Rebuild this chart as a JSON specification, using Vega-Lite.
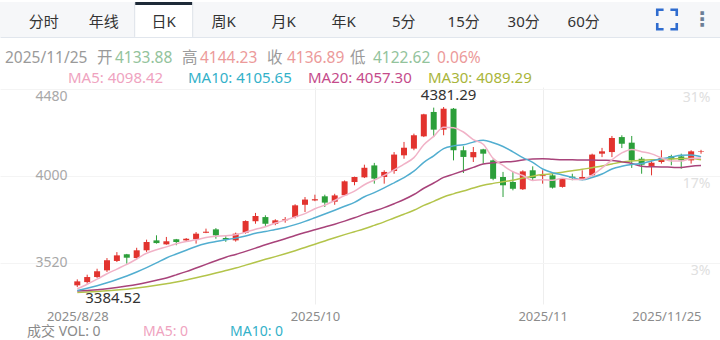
{
  "$schema": "https://vega.github.io/schema/vega-lite/v6.json",
  "padding": {"top": -3, "left": 0, "right": 0, "bottom": 0},
  "background": "#ffffff",
  "config": {"view": {"stroke": null}, "font": "Noto Sans, Noto Sans CJK SC", "text": {"font": "Noto Sans, Noto Sans CJK SC"}},
  "datasets": {
    "tabs": [{"tab": "分时"}, {"tab": "年线"}, {"tab": "日K"}, {"tab": "周K"}, {"tab": "月K"}, {"tab": "年K"}, {"tab": "5分"}, {"tab": "15分"}, {"tab": "30分"}, {"tab": "60分"}],
    "icons": [{"seq": 0, "name": "fullscreen"}, {"seq": 1, "name": "more", "t": "⋮"}],
    "quote": [
      {"row": 0, "seq": 0, "t": "2025/11/25", "k": "lab"},
      {"row": 0, "seq": 1, "t": "开", "k": "lab"},
      {"row": 0, "seq": 2, "t": "4133.88", "k": "-"},
      {"row": 0, "seq": 3, "t": "高", "k": "lab"},
      {"row": 0, "seq": 4, "t": "4144.23", "k": "+"},
      {"row": 0, "seq": 5, "t": "收", "k": "lab"},
      {"row": 0, "seq": 6, "t": "4136.89", "k": "+"},
      {"row": 0, "seq": 7, "t": "低", "k": "lab"},
      {"row": 0, "seq": 8, "t": "4122.62", "k": "-"},
      {"row": 0, "seq": 9, "t": "0.06%", "k": "+"},
      {"row": 1, "seq": 10, "t": "MA5: 4098.42", "k": "ma5"},
      {"row": 1, "seq": 11, "t": "MA10: 4105.65", "k": "ma10"},
      {"row": 1, "seq": 12, "t": "MA20: 4057.30", "k": "ma20"},
      {"row": 1, "seq": 13, "t": "MA30: 4089.29", "k": "ma30"}
    ],
    "vol": [
      {"seq": 0, "t": "成交  VOL: 0", "k": "lab"},
      {"seq": 1, "t": "MA5: 0", "k": "ma5"},
      {"seq": 2, "t": "MA10: 0", "k": "ma10"}
    ],
    "candles": [
      {"d":"2025-08-28","i":0,"o":3394,"h":3427,"l":3384.52,"c":3416,"ma5":3375,"ma10":3366,"ma20":3363,"ma30":3355},
      {"d":"2025-08-29","i":1,"o":3412,"h":3453,"l":3403,"c":3440,"ma5":3400,"ma10":3378,"ma20":3366,"ma30":3357},
      {"d":"2025-09-01","i":2,"o":3440,"h":3486,"l":3435,"c":3472,"ma5":3428,"ma10":3392,"ma20":3370,"ma30":3360},
      {"d":"2025-09-02","i":3,"o":3477,"h":3545,"l":3468,"c":3533,"ma5":3458,"ma10":3408,"ma20":3375,"ma30":3364},
      {"d":"2025-09-03","i":4,"o":3529,"h":3578,"l":3523,"c":3560,"ma5":3484,"ma10":3426,"ma20":3382,"ma30":3368},
      {"d":"2025-09-04","i":5,"o":3566,"h":3568,"l":3514,"c":3547,"ma5":3510,"ma10":3446,"ma20":3390,"ma30":3373},
      {"d":"2025-09-05","i":6,"o":3545,"h":3602,"l":3538,"c":3588,"ma5":3540,"ma10":3468,"ma20":3399,"ma30":3379},
      {"d":"2025-09-08","i":7,"o":3588,"h":3647,"l":3579,"c":3634,"ma5":3572,"ma10":3492,"ma20":3410,"ma30":3386},
      {"d":"2025-09-09","i":8,"o":3643,"h":3671,"l":3625,"c":3628,"ma5":3591,"ma10":3518,"ma20":3422,"ma30":3394},
      {"d":"2025-09-10","i":9,"o":3621,"h":3662,"l":3619,"c":3638,"ma5":3607,"ma10":3545.6,"ma20":3435,"ma30":3403},
      {"d":"2025-09-11","i":10,"o":3649,"h":3651,"l":3616,"c":3634,"ma5":3624,"ma10":3567.4,"ma20":3452,"ma30":3412},
      {"d":"2025-09-12","i":11,"o":3643,"h":3656,"l":3640,"c":3652,"ma5":3637,"ma10":3588.6,"ma20":3470,"ma30":3424},
      {"d":"2025-09-15","i":12,"o":3649,"h":3689,"l":3625,"c":3680,"ma5":3646,"ma10":3609.4,"ma20":3490,"ma30":3436},
      {"d":"2025-09-16","i":13,"o":3685,"h":3708,"l":3683,"c":3691,"ma5":3659,"ma10":3625.2,"ma20":3510,"ma30":3449},
      {"d":"2025-09-17","i":14,"o":3704,"h":3711,"l":3652,"c":3671,"ma5":3666,"ma10":3636.3,"ma20":3530,"ma30":3462},
      {"d":"2025-09-18","i":15,"o":3656,"h":3666,"l":3635,"c":3647,"ma5":3668,"ma10":3646.3,"ma20":3550,"ma30":3476},
      {"d":"2025-09-19","i":16,"o":3643,"h":3686,"l":3636,"c":3680,"ma5":3674,"ma10":3655.5,"ma20":3565,"ma30":3490},
      {"d":"2025-09-22","i":17,"o":3685,"h":3754,"l":3680,"c":3750,"ma5":3688,"ma10":3667.1,"ma20":3582,"ma30":3506},
      {"d":"2025-09-23","i":18,"o":3749,"h":3795,"l":3735,"c":3778,"ma5":3705,"ma10":3682.1,"ma20":3600,"ma30":3522},
      {"d":"2025-09-24","i":19,"o":3772,"h":3782,"l":3723,"c":3735,"ma5":3718,"ma10":3691.8,"ma20":3618.7,"ma30":3538},
      {"d":"2025-09-25","i":20,"o":3735,"h":3760,"l":3727,"c":3754,"ma5":3739,"ma10":3703.8,"ma20":3635.6,"ma30":3553},
      {"d":"2025-09-26","i":21,"o":3754,"h":3772,"l":3741,"c":3760,"ma5":3755,"ma10":3714.6,"ma20":3651.6,"ma30":3569},
      {"d":"2025-09-29","i":22,"o":3772,"h":3843,"l":3765,"c":3837,"ma5":3773,"ma10":3730.3,"ma20":3669.9,"ma30":3586},
      {"d":"2025-09-30","i":23,"o":3840,"h":3883,"l":3800,"c":3869,"ma5":3791,"ma10":3748.1,"ma20":3686.7,"ma30":3604},
      {"d":"2025-10-01","i":24,"o":3864,"h":3896,"l":3860,"c":3871,"ma5":3818,"ma10":3768.1,"ma20":3702.2,"ma30":3622},
      {"d":"2025-10-02","i":25,"o":3887,"h":3896,"l":3828,"c":3852,"ma5":3838,"ma10":3788.6,"ma20":3717.5,"ma30":3640},
      {"d":"2025-10-03","i":26,"o":3857,"h":3901,"l":3840,"c":3892,"ma5":3864,"ma10":3809.8,"ma20":3732.7,"ma30":3658},
      {"d":"2025-10-06","i":27,"o":3893,"h":3975,"l":3890,"c":3970,"ma5":3891,"ma10":3831.8,"ma20":3749.5,"ma30":3675},
      {"d":"2025-10-07","i":28,"o":3966,"h":3996,"l":3948,"c":3994,"ma5":3916,"ma10":3853.4,"ma20":3767.8,"ma30":3691},
      {"d":"2025-10-08","i":29,"o":3992,"h":4062,"l":3988,"c":4045,"ma5":3951,"ma10":3884.4,"ma20":3788.1,"ma30":3707.3},
      {"d":"2025-10-09","i":30,"o":4058,"h":4072,"l":3957,"c":3985,"ma5":3977,"ma10":3907.5,"ma20":3805.7,"ma30":3726.2},
      {"d":"2025-10-10","i":31,"o":3994,"h":4031,"l":3957,"c":4022,"ma5":4003,"ma10":3933.7,"ma20":3824.2,"ma30":3745.6},
      {"d":"2025-10-13","i":32,"o":4027,"h":4132,"l":4012,"c":4118,"ma5":4033,"ma10":3961.8,"ma20":3846.1,"ma30":3767.2},
      {"d":"2025-10-14","i":33,"o":4114,"h":4188,"l":4095,"c":4156,"ma5":4065,"ma10":3990.5,"ma20":3869.3,"ma30":3787.9},
      {"d":"2025-10-15","i":34,"o":4151,"h":4234,"l":4142,"c":4225,"ma5":4101,"ma10":4025.9,"ma20":3897,"ma30":3810.1},
      {"d":"2025-10-16","i":35,"o":4219,"h":4344,"l":4215,"c":4341,"ma5":4172,"ma10":4074.8,"ma20":3931.7,"ma30":3836.6},
      {"d":"2025-10-17","i":36,"o":4354,"h":4378,"l":4215,"c":4256,"ma5":4219,"ma10":4111.2,"ma20":3960.5,"ma30":3858.8},
      {"d":"2025-10-20","i":37,"o":4256,"h":4381.29,"l":4225,"c":4372,"ma5":4270,"ma10":4151.4,"ma20":3991.6,"ma30":3883.4},
      {"d":"2025-10-21","i":38,"o":4372,"h":4376,"l":4086,"c":4142,"ma5":4267,"ma10":4166.2,"ma20":4009.8,"ma30":3900.6},
      {"d":"2025-10-22","i":39,"o":4142,"h":4164,"l":4016,"c":4105,"ma5":4243,"ma10":4172.2,"ma20":4028.3,"ma30":3916.1},
      {"d":"2025-10-23","i":40,"o":4103,"h":4160,"l":4077,"c":4132,"ma5":4201,"ma10":4186.9,"ma20":4047.2,"ma30":3932.7},
      {"d":"2025-10-24","i":41,"o":4147,"h":4150,"l":4067,"c":4123,"ma5":4175,"ma10":4197,"ma20":4065.4,"ma30":3948.4},
      {"d":"2025-10-27","i":42,"o":4086,"h":4092,"l":3976,"c":3984,"ma5":4097,"ma10":4183.6,"ma20":4072.7,"ma30":3958.6},
      {"d":"2025-10-28","i":43,"o":3994,"h":4022,"l":3883,"c":3948,"ma5":4058,"ma10":4162.8,"ma20":4076.7,"ma30":3967.1},
      {"d":"2025-10-29","i":44,"o":3966,"h":4022,"l":3920,"c":3929,"ma5":4023,"ma10":4133.2,"ma20":4079.6,"ma30":3975.7},
      {"d":"2025-10-30","i":45,"o":3926,"h":4031,"l":3922,"c":4025,"ma5":4002,"ma10":4101.6,"ma20":4088.2,"ma30":3988.3},
      {"d":"2025-10-31","i":46,"o":4031,"h":4053,"l":3976,"c":3988,"ma5":3975,"ma10":4074.8,"ma20":4093,"ma30":3998.6},
      {"d":"2025-11-03","i":47,"o":3999,"h":4031,"l":3957,"c":4004,"ma5":3979,"ma10":4038,"ma20":4094.7,"ma30":4007.1},
      {"d":"2025-11-04","i":48,"o":4003,"h":4012,"l":3930,"c":3935,"ma5":3976,"ma10":4017.3,"ma20":4091.8,"ma30":4012.3},
      {"d":"2025-11-05","i":49,"o":3939,"h":3988,"l":3935,"c":3985,"ma5":3987,"ma10":4005.3,"ma20":4088.8,"ma30":4020.6},
      {"d":"2025-11-06","i":50,"o":3996,"h":4012,"l":3976,"c":3988,"ma5":3980,"ma10":3990.9,"ma20":4088.9,"ma30":4028.4},
      {"d":"2025-11-07","i":51,"o":3981,"h":4031,"l":3976,"c":3994,"ma5":3981,"ma10":3978,"ma20":4087.5,"ma30":4036.2},
      {"d":"2025-11-10","i":52,"o":4003,"h":4123,"l":3998,"c":4118,"ma5":4004,"ma10":3991.4,"ma20":4087.5,"ma30":4045.6},
      {"d":"2025-11-11","i":53,"o":4123,"h":4155,"l":4104,"c":4136,"ma5":4044,"ma10":4010.2,"ma20":4086.5,"ma30":4054.5},
      {"d":"2025-11-12","i":54,"o":4132,"h":4221,"l":4104,"c":4210,"ma5":4089,"ma10":4038.3,"ma20":4085.8,"ma30":4065.8},
      {"d":"2025-11-13","i":55,"o":4215,"h":4225,"l":4154,"c":4178,"ma5":4127,"ma10":4053.6,"ma20":4077.6,"ma30":4076.7},
      {"d":"2025-11-14","i":56,"o":4184,"h":4221,"l":4044,"c":4086,"ma5":4146,"ma10":4063.4,"ma20":4069.1,"ma30":4083.1},
      {"d":"2025-11-17","i":57,"o":4095,"h":4105,"l":4012,"c":4062,"ma5":4134,"ma10":4069.2,"ma20":4053.6,"ma30":4086.2},
      {"d":"2025-11-18","i":58,"o":4055,"h":4086,"l":4003,"c":4073,"ma5":4122,"ma10":4083,"ma20":4050.2,"ma30":4088.8},
      {"d":"2025-11-19","i":59,"o":4077,"h":4142,"l":4068,"c":4099,"ma5":4100,"ma10":4094.4,"ma20":4049.9,"ma30":4090.6},
      {"d":"2025-11-20","i":60,"o":4110,"h":4117,"l":4059,"c":4092,"ma5":4082,"ma10":4104.8,"ma20":4047.8,"ma30":4094.2},
      {"d":"2025-11-21","i":61,"o":4108,"h":4123,"l":4040,"c":4086,"ma5":4082,"ma10":4114,"ma20":4046,"ma30":4096.3},
      {"d":"2025-11-24","i":62,"o":4086,"h":4142,"l":4068,"c":4136,"ma5":4097,"ma10":4115.8,"ma20":4053.6,"ma30":4096.9},
      {"d":"2025-11-25","i":63,"o":4133.88,"h":4144.23,"l":4122.62,"c":4136.89,"ma5":4098.42,"ma10":4105.65,"ma20":4057.3,"ma30":4089.29}
    ]
  },
  "spacing": 0,
  "bounds": "flush",
  "resolve": {"scale": {"color": "independent", "x": "independent", "y": "independent"}},
  "vconcat": [
    {
      "width": 720,
      "height": 35,
      "view": {"fill": "#f6f7f9", "stroke": null},
      "layer": [
        {
          "data": {"name": "tabs"},
          "encoding": {
            "x": {"field": "tab", "type": "nominal", "sort": null,
              "scale": {"type": "band", "domain": ["分时", "年线", "日K", "周K", "月K", "年K", "5分", "15分", "30分", "60分"], "range": [0, 720], "paddingInner": 0, "paddingOuter": 1.207, "align": 0.114},
              "axis": {"orient": "bottom", "domain": true, "domainColor": "#e1e6ed", "labels": false, "ticks": false, "grid": false, "title": null, "minExtent": 0, "maxExtent": 0}}
          },
          "layer": [
            {
              "transform": [{"filter": "datum.tab === '日K'"}],
              "mark": {"type": "point", "shape": "M-1,0.6V-0.58H1V0.6", "size": 3364, "filled": true, "fill": "#ffffff", "stroke": "#dde2e8", "strokeWidth": 1, "opacity": 1}
            },
            {
              "transform": [{"filter": "datum.tab === '日K'"}],
              "mark": {"type": "point", "shape": "M-0.98,-0.55H0.98", "size": 3364, "filled": false, "stroke": "#1e2a38", "strokeWidth": 3, "opacity": 1}
            },
            {
              "mark": {"type": "text", "fontSize": 15, "color": "#333333", "dy": 2, "font": "Noto Sans, Noto Sans CJK SC"},
              "encoding": {"text": {"field": "tab"}}
            }
          ]
        },
        {
          "data": {"name": "icons"},
          "encoding": {
            "x": {"field": "seq", "type": "quantitative", "scale": {"domain": [0, 1], "range": [667, 702]}, "axis": null}
          },
          "layer": [
            {
              "transform": [{"filter": "datum.name === 'fullscreen'"}],
              "mark": {"type": "point", "shape": "M-1,-0.35V-1H-0.35M0.35,-1H1V-0.35M1,0.35V1H0.35M-0.35,1H-1V0.35", "size": 380, "filled": false, "stroke": "#2f6ccf", "strokeWidth": 2.6, "opacity": 1}
            },
            {
              "transform": [{"filter": "datum.name === 'more'"}],
              "mark": {"type": "text", "fontSize": 20, "fontWeight": "bold", "color": "#6b7e96", "font": "DejaVu Sans"},
              "encoding": {"text": {"field": "t"}}
            }
          ]
        }
      ],
      "resolve": {"scale": {"x": "independent"}, "axis": {"x": "independent"}}
    },
    {
      "width": 720,
      "height": 50,
      "data": {"name": "quote"},
      "encoding": {
        "x": {"field": "seq", "type": "quantitative", "scale": {"domain": [0, 1, 2, 3, 4, 5, 6, 7, 8, 9, 10, 11, 12, 13], "range": [5, 97, 115, 182, 200, 267, 287, 350, 373, 437, 68, 188, 308, 428]}, "axis": null},
        "y": {"field": "row", "type": "quantitative", "scale": {"domain": [0, 1], "range": [21, 41]}, "axis": null},
        "text": {"field": "t"},
        "color": {"field": "k", "type": "nominal", "legend": null,
          "scale": {"domain": ["lab", "+", "-", "ma5", "ma10", "ma20", "ma30"], "range": ["#9a9a9a", "#ec9a9a", "#93c39c", "#efa3c0", "#33b1c9", "#c54b8b", "#a9b53a"]}}
      },
      "layer": [
        {"transform": [{"filter": "datum.row == 0"}], "mark": {"type": "text", "align": "left", "baseline": "middle", "fontSize": 15.5}},
        {"transform": [{"filter": "datum.row == 1"}], "mark": {"type": "text", "align": "left", "baseline": "middle", "fontSize": 15}}
      ]
    },
    {
      "width": 720,
      "height": 217,
      "data": {"name": "candles"},
      "layer": [
        {
          "encoding": {
            "x": {"field": "i", "type": "quantitative", "title": null,
              "scale": {"domain": [-7.3, 64.41], "nice": false, "zero": false},
              "axis": {"values": [0, 24, 47, 63],
                "labelExpr": "datum.value == 0 ? '2025/8/28' : datum.value == 24 ? '2025/10' : datum.value == 47 ? '2025/11' : '2025/11/25'",
                "grid": true, "gridColor": {"condition": {"test": "datum.value == 24 || datum.value == 47", "value": "#eeeeee"}, "value": "transparent"},
                "domain": false, "ticks": false, "tickSize": 0, "labelPadding": 6, "labelColor": "#8c8c8c", "labelFontSize": 13,
                "labelAlign": {"condition": {"test": "datum.value == 63", "value": "right"}, "value": "center"},
                "labelOverlap": false, "labelBound": false, "title": null, "minExtent": 0, "maxExtent": 0}}
          },
          "layer": [
            {
              "mark": {"type": "rule", "strokeWidth": 1},
              "encoding": {
                "y": {"field": "l", "type": "quantitative", "title": null,
                  "scale": {"domain": [3290.7, 4492.2], "nice": false, "zero": false},
                  "axis": {"orient": "left", "values": [3520, 4000, 4480], "format": "d", "grid": true, "gridColor": "#f4f4f4", "domain": false, "ticks": false, "tickSize": 0,
                    "labelAlign": "left", "labelPadding": -35,
                    "labelBaseline": {"condition": {"test": "datum.value == 4480", "value": "top"}, "value": "middle"},
                    "labelColor": "#a8a8a8", "labelFontSize": 14, "title": null, "minExtent": 0, "maxExtent": 0}},
                "y2": {"field": "h"},
                "color": {"condition": {"test": "datum.c >= datum.o", "value": "#e2332e"}, "value": "#2c9f3a"}
              }
            },
            {
              "mark": {"type": "bar", "size": 6},
              "encoding": {
                "y": {"field": "o", "type": "quantitative", "title": null},
                "y2": {"field": "c"},
                "color": {"condition": {"test": "datum.c >= datum.o", "value": "#e2332e"}, "value": "#2c9f3a"}
              }
            },
            {
              "mark": {"type": "line", "color": "#b3c44a", "strokeWidth": 1.5, "interpolate": "monotone"},
              "encoding": {"y": {"field": "ma30", "type": "quantitative", "title": null}}
            },
            {
              "mark": {"type": "line", "color": "#a8437a", "strokeWidth": 1.5, "interpolate": "monotone"},
              "encoding": {"y": {"field": "ma20", "type": "quantitative", "title": null}}
            },
            {
              "mark": {"type": "line", "color": "#52aed0", "strokeWidth": 1.5, "interpolate": "monotone"},
              "encoding": {"y": {"field": "ma10", "type": "quantitative", "title": null}}
            },
            {
              "mark": {"type": "line", "color": "#f1b2c7", "strokeWidth": 1.5, "interpolate": "monotone"},
              "encoding": {"y": {"field": "ma5", "type": "quantitative", "title": null}}
            },
            {
              "transform": [{"filter": "datum.i == 37"}],
              "mark": {"type": "text", "baseline": "bottom", "dy": -4, "dx": 5, "fontSize": 15, "color": "#333333"},
              "encoding": {
                "y": {"field": "h", "type": "quantitative", "title": null},
                "text": {"field": "h", "type": "quantitative", "format": ".2f"}
              }
            },
            {
              "transform": [{"filter": "datum.i == 0"}],
              "mark": {"type": "text", "align": "left", "baseline": "top", "dy": 4, "dx": 8, "fontSize": 15, "color": "#333333"},
              "encoding": {
                "y": {"field": "l", "type": "quantitative", "title": null},
                "text": {"field": "l", "type": "quantitative", "format": ".2f"}
              }
            }
          ]
        },
        {
          "mark": {"type": "rule", "opacity": 0},
          "encoding": {
            "y": {"field": "c", "type": "quantitative", "title": null,
              "axis": {"orient": "right", "values": [3520, 4000, 4480], "grid": false, "domain": false, "ticks": false, "tickSize": 0,
                "labelAlign": "right", "labelPadding": -10, "labelBaseline": "top", "labelOffset": 1,
                "labelExpr": "format(datum.value / 3418.8 - 1, '.0%')",
                "labelColor": "#e0e0e0", "labelFontSize": 14, "title": null, "minExtent": 0, "maxExtent": 0}}
          }
        }
      ],
      "resolve": {"axis": {"y": "independent"}}
    },
    {
      "width": 720,
      "height": 38,
      "data": {"name": "vol"},
      "mark": {"type": "text", "align": "left", "baseline": "middle", "fontSize": 14, "dy": 9},
      "encoding": {
        "x": {"field": "seq", "type": "quantitative", "scale": {"domain": [0, 1, 2], "range": [27, 143, 230]}, "axis": null},
        "text": {"field": "t"},
        "color": {"field": "k", "type": "nominal", "legend": null,
          "scale": {"domain": ["lab", "ma5", "ma10"], "range": ["#8a8a8a", "#efa3c0", "#33b1c9"]}}
      }
    }
  ]
}
